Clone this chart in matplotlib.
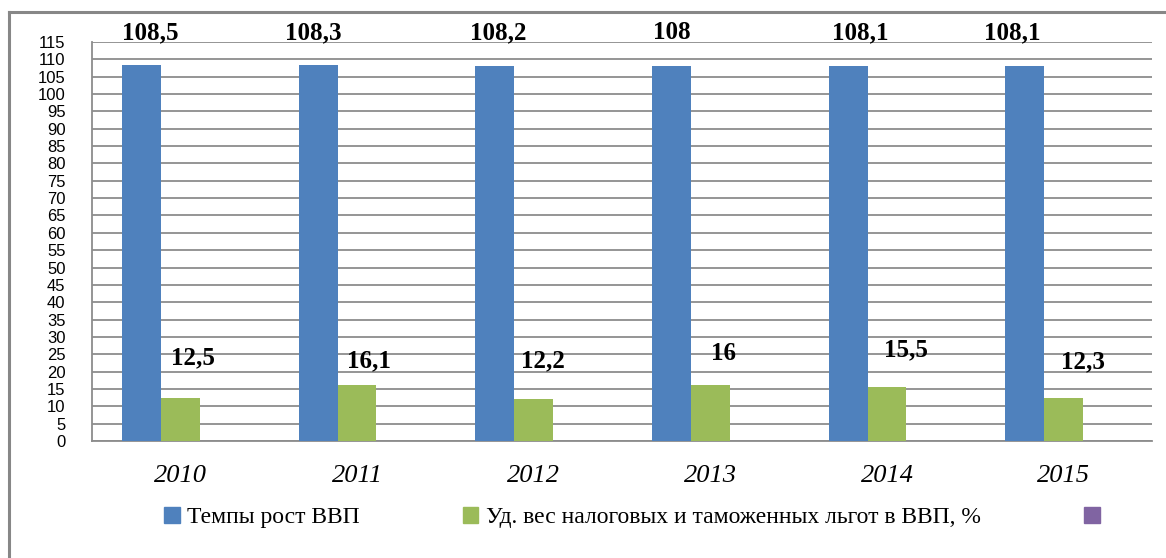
import matplotlib.pyplot as plt
import numpy as np
from matplotlib.patches import Patch
from matplotlib.lines import Line2D

years = ["2010", "2011", "2012", "2013", "2014", "2015"]
gdp_growth = [108.5, 108.3, 108.2, 108, 108.1, 108.1]
benefits_share = [12.5, 16.1, 12.2, 16, 15.5, 12.3]
gdp_labels = ["108,5", "108,3", "108,2", "108", "108,1", "108,1"]
benefits_labels = ["12,5", "16,1", "12,2", "16", "15,5", "12,3"]
legend_names = ["Темпы рост ВВП", "Уд. вес налоговых и таможенных льгот в ВВП, %", ""]

# where the data labels sit in the original (offsets, data units)
gdp_lab_dx = [0.05, -0.03, 0.02, 0.0, 0.07, -0.07]
gdp_lab_y = [117.6] * 6
ben_lab_dx = [0.074, 0.068, 0.05, 0.074, 0.11, 0.11]
ben_lab_y = [23.9, 23.1, 23.1, 25.1, 26.2, 22.8]

c_blue = "#4F81BD"
c_green = "#9BBB59"
c_purple = "#8064A2"
grid_c = "#8C8C8C"

fig = plt.figure(figsize=(11.66, 5.58), dpi=100)
ax = fig.add_axes([92/1166, 117/558, 1060/1166, 399/558])

x = np.arange(len(years))
w = 0.22
ax.bar(x - w, gdp_growth, w, color=c_blue, zorder=3)
ax.bar(x, benefits_share, w, color=c_green, zorder=3)

ax.set_xlim(-0.5, len(years) - 0.5)
ax.set_ylim(0, 115)
ax.set_yticks(np.arange(0, 116, 5))
ax.yaxis.grid(True, color=grid_c, lw=1.3, zorder=0)
ax.tick_params(axis="both", length=0)
ax.tick_params(axis="y", pad=19)
ax.tick_params(axis="x", pad=17)
for t in ax.get_yticklabels():
    t.set_fontfamily("Liberation Sans")
    t.set_fontsize(12)
ax.set_xticks(x)
ax.set_xticklabels(years, fontfamily="Liberation Serif", fontstyle="italic", fontsize=19)

for s in ["top", "right"]:
    ax.spines[s].set_visible(False)
for s in ["left", "bottom"]:
    ax.spines[s].set_color(grid_c)
    ax.spines[s].set_linewidth(1.3)

for i in range(len(years)):
    ax.text(x[i] - w + gdp_lab_dx[i], gdp_lab_y[i], gdp_labels[i], ha="center", va="center",
            fontfamily="Liberation Serif", fontweight="bold", fontsize=18, clip_on=False)
    ax.text(x[i] + ben_lab_dx[i], ben_lab_y[i], benefits_labels[i], ha="center", va="center",
            fontfamily="Liberation Serif", fontweight="bold", fontsize=18)

handles = [Patch(color=c_blue), Patch(color=c_green), Patch(color=c_purple)]
fig.legend(handles, legend_names, loc="center", bbox_to_anchor=(0.545, 0.072), ncol=3,
           frameon=False, prop={"family": "Liberation Serif", "size": 17},
           handlelength=0.65, handleheight=0.65, handletextpad=0.3, columnspacing=4.4)

# outer frame (only left and top visible in the original)
fig.add_artist(Line2D([9/1166, 9/1166], [0, 1 - 12/558], transform=fig.transFigure, color="#878787", lw=2.2))
fig.add_artist(Line2D([9/1166, 1], [1 - 12/558, 1 - 12/558], transform=fig.transFigure, color="#878787", lw=2.2))

plt.savefig("out.png", dpi=100)
